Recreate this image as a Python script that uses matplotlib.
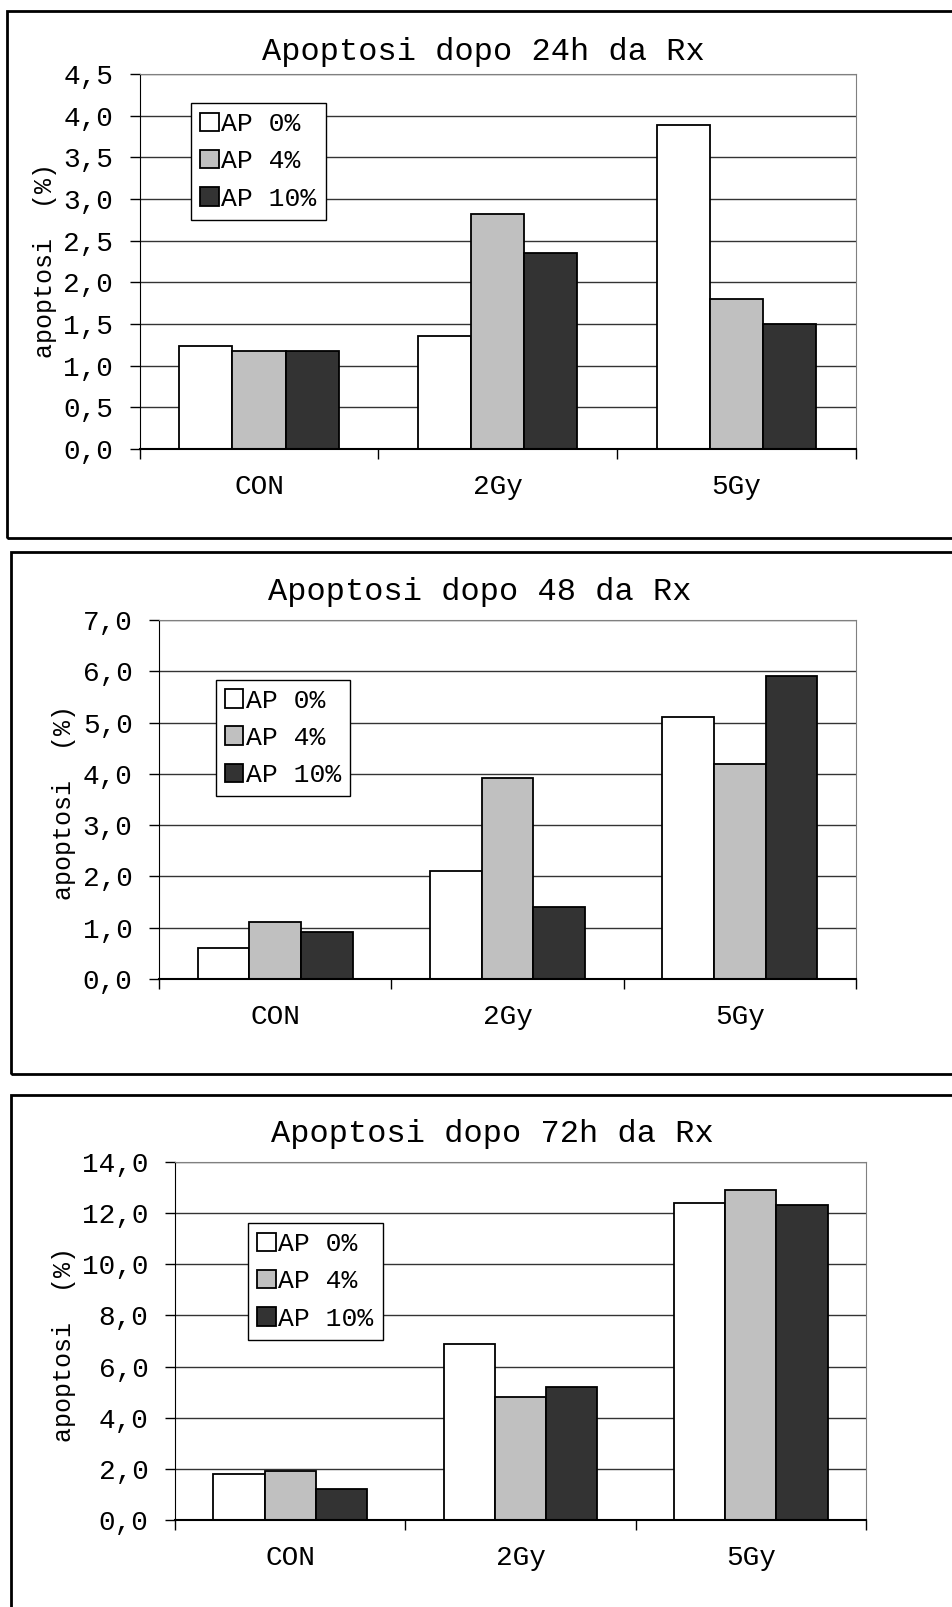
import numpy as np
import matplotlib
matplotlib.use("Agg")
import matplotlib.pyplot as plt
from matplotlib.patches import Rectangle
from matplotlib.ticker import FuncFormatter, MultipleLocator

plt.rcParams['font.family'] = ['Liberation Mono', 'DejaVu Sans Mono']

categories = ['CON', '2Gy', '5Gy']
series = ['AP 0%', 'AP 4%', 'AP 10%']
colors = ['white', '#c0c0c0', '#333333']

# apoptosis (%) per time point, one list per series
ap_24h = [[1.24, 1.35, 3.89], [1.18, 2.82, 1.80], [1.17, 2.35, 1.50]]
ap_48h = [[0.60, 2.11, 5.10], [1.11, 3.91, 4.20], [0.92, 1.41, 5.90]]
ap_72h = [[1.81, 6.89, 12.39], [1.90, 4.82, 12.91], [1.21, 5.22, 12.31]]

titles = ['Apoptosi dopo 24h da Rx', 'Apoptosi dopo 48 da Rx', 'Apoptosi dopo 72h da Rx']
ymax = [4.5, 7.0, 14.0]
ystep = [0.5, 1.0, 2.0]

W, H = 952, 1607
fig = plt.figure(figsize=(W / 100, H / 100), dpi=100)

# pixel layout: frame (left, top, bottom), axes (l, r, t, b), title (x, y),
# ylabel (x, y), legend top-left (x, y)
layout = [
    dict(frame=(6.5, 11, 538), ax=(139.6, 856, 74, 449), title=(483, 52),
         ylab=(45.5, 261), leg=(191, 103)),
    dict(frame=(11, 552, 1074), ax=(159, 856, 620, 979), title=(480, 592),
         ylab=(64, 802), leg=(215.5, 679.5)),
    dict(frame=(11, 1095, 1640), ax=(175, 866, 1162, 1520), title=(492, 1134),
         ylab=(64, 1344), leg=(248, 1223)),
]

data = [ap_24h, ap_48h, ap_72h]
fmt = FuncFormatter(lambda v, p: f'{v:.1f}'.replace('.', ','))

for i, lay in enumerate(layout):
    fl, ft, fb = lay['frame']
    fig.patches.append(Rectangle((fl / W, 1 - fb / H), (W + 20 - fl) / W, (fb - ft) / H,
                                 transform=fig.transFigure, fill=False,
                                 edgecolor='black', lw=2))

    l, r, t, b = lay['ax']
    ax = fig.add_axes([l / W, 1 - b / H, (r - l) / W, (b - t) / H])
    x = np.arange(len(categories))
    w = 1 / 4.5
    for j, vals in enumerate(data[i]):
        ax.bar(x + (j - 1) * w, vals, width=w, color=colors[j], edgecolor='black',
               linewidth=1.3, label=series[j], zorder=3)

    ax.set_xlim(-0.5, 2.5)
    ax.set_ylim(0, ymax[i])
    ax.yaxis.set_major_locator(MultipleLocator(ystep[i]))
    ax.yaxis.set_major_formatter(fmt)
    ax.grid(axis='y', color='#333333', lw=1, zorder=0)
    ax.set_axisbelow(True)

    ax.set_xticks([-0.5, 0.5, 1.5, 2.5])
    ax.set_xticklabels([])
    ax.set_xticks(x, minor=True)
    ax.set_xticklabels(categories, minor=True)
    ax.tick_params(axis='x', which='major', direction='out', length=7, width=1)
    ax.tick_params(axis='x', which='minor', length=0, pad=18, labelsize=20)
    ax.tick_params(axis='y', direction='out', length=7, width=1, pad=12, labelsize=20)

    ax.spines['left'].set_color('black')
    ax.spines['bottom'].set_color('black')
    ax.spines['bottom'].set_linewidth(1.5)
    ax.spines['top'].set_color('#808080')
    ax.spines['right'].set_color('#808080')
    for s in ax.spines.values():
        s.set_zorder(4)

    tx, ty = lay['title']
    fig.text(tx / W, 1 - ty / H, titles[i], ha='center', va='center', fontsize=23)
    yx, yy = lay['ylab']
    fig.text(yx / W, 1 - yy / H, 'apoptosi  (%)', ha='center', va='center',
             rotation=90, fontsize=18)

    lx, ly = lay['leg']
    leg = ax.legend(loc='upper left', bbox_to_anchor=(lx / W, 1 - ly / H),
                    bbox_transform=fig.transFigure, borderaxespad=0, fontsize=19,
                    frameon=True, fancybox=False, edgecolor='black', framealpha=1,
                    handlelength=0.7, handleheight=0.7, handletextpad=0.1,
                    labelspacing=0.5, borderpad=0.35)
    leg.get_frame().set_linewidth(1)
    leg.set_zorder(5)

fig.savefig('out.png', dpi=100)
